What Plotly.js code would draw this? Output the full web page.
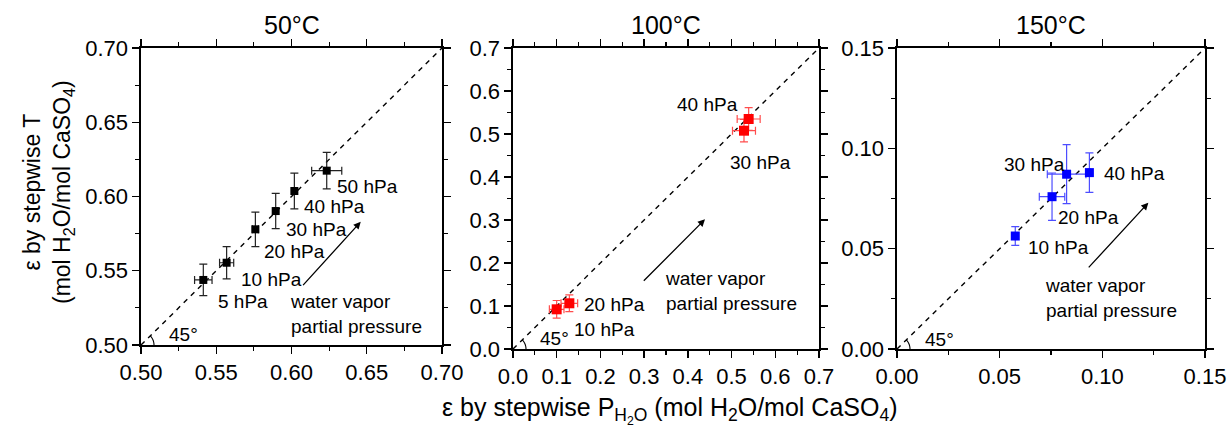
<!DOCTYPE html>
<html>
<head>
<meta charset="utf-8">
<script src="https://cdn.plot.ly/plotly-3.0.1.min.js"></script>
<style>html,body{margin:0;padding:0;background:#fff;}#chart{width:1232px;height:431px;}</style>
</head>
<body>
<div id="chart"></div>
<script>
// ---- data ----
const panelTitles = ["50°C", "100°C", "150°C"];

const labels50 = ["5 hPa", "10 hPa", "20 hPa", "30 hPa", "40 hPa", "50 hPa"];
const x50 = [0.5414, 0.5569, 0.5760, 0.5895, 0.6019, 0.6234];
const y50 = [0.5438, 0.5554, 0.5779, 0.5902, 0.6037, 0.6174];
const xerr50 = [0.0058, 0.0047, 0.0020, 0.0010, 0.0008, 0.0100];
const yerr50 = [0.0106, 0.0109, 0.0116, 0.0119, 0.0121, 0.0123];

const labels100 = ["10 hPa", "20 hPa", "30 hPa", "40 hPa"];
const x100 = [0.0999, 0.1289, 0.5284, 0.5391];
const y100 = [0.0923, 0.1063, 0.5077, 0.5349];
const xerr100 = [0.0167, 0.0190, 0.0263, 0.0263];
const yerr100 = [0.0205, 0.0194, 0.0260, 0.0263];

const labels150 = ["10 hPa", "20 hPa", "30 hPa", "40 hPa"];
const x150 = [0.0576, 0.0755, 0.0826, 0.0937];
const y150 = [0.0563, 0.0759, 0.0871, 0.0879];
const xerr150 = [0.0015, 0.0062, 0.0094, 0.0005];
const yerr150 = [0.0047, 0.0118, 0.0147, 0.0098];

// ---- layout config (pixels) ----
const W = 1232, H = 431;
const FONT = "Liberation Sans, Arial, sans-serif";
const LAB = 19;
const panels = [
  {xs: x50, ys: y50, xe: xerr50, ye: yerr50, labs: labels50, range: [0.5, 0.7], dtick: 0.05, minor: 0.025, fmt: ".2f",
   px: [141, 442], py: [48, 345], color: "#000000", ecolor: "#222222", msize: 8,
   offs: [[12.7, 21.7, "left"], [12.6, 16.6, "left"], [6.4, 22.4, "left"], [8.3, 18.3, "left"], [8, 15.7, "left"], [8.3, 16, "left"]],
   wv: [0.5979, 0.521], arrow: [0.6068, 0.5393, 0.646, 0.583], deg: [0.5171, 0.5074]},
  {xs: x100, ys: y100, xe: xerr100, ye: yerr100, labs: labels100, range: [0, 0.7], dtick: 0.1, minor: 0.05, fmt: ".1f",
   px: [513, 819], py: [48, 349], color: "#ff0000", ecolor: "#ff4d4d", msize: 10,
   offs: [[15, 20, "left"], [12.4, 1.7, "left"], [-15.7, 32, "left"], [-8.7, -14, "right"]],
   wv: [0.3425, 0.1353], arrow: [0.2958, 0.1551, 0.4392, 0.3016], deg: [0.0572, 0.0249]},
  {xs: x150, ys: y150, xe: xerr150, ye: yerr150, labs: labels150, range: [0, 0.15], dtick: 0.05, minor: 0.025, fmt: ".2f",
   px: [897, 1205], py: [48, 349], color: "#0000ff", ecolor: "#4d4dff", msize: 9,
   offs: [[10.7, 11.3, "left"], [4, 20.6, "left"], [0, -9.3, "right"], [12.4, 0.6, "left"]],
   wv: [0.0713, 0.0253], arrow: [0.0927, 0.0399, 0.1224, 0.0729], deg: [0.0128, 0.0048]}
];

const traces = [];
const annotations = [];
const shapes = [];
const layout = {
  width: W, height: H,
  margin: {l: 0, r: 0, t: 0, b: 0},
  paper_bgcolor: "#fff", plot_bgcolor: "#fff",
  showlegend: false,
  font: {family: FONT, color: "#000", size: LAB}
};

panels.forEach((p, i) => {
  const n = i === 0 ? "" : String(i + 1);
  const xa = "x" + n, ya = "y" + n;
  const axCommon = {
    range: p.range, dtick: p.dtick, tick0: 0, tickformat: p.fmt,
    showgrid: false, zeroline: false, showline: true, linecolor: "#000", linewidth: 1.6,
    mirror: "ticks", ticks: "outside", ticklen: 7, tickwidth: 1.3, tickcolor: "#000",
    tickfont: {family: FONT, size: 22, color: "#000"},
    minor: {dtick: p.minor, tick0: 0, ticklen: 4, tickwidth: 1.1, tickcolor: "#000", ticks: "outside", showgrid: false}
  };
  layout["xaxis" + n] = Object.assign({}, axCommon, {domain: [p.px[0] / W, p.px[1] / W], anchor: ya});
  layout["yaxis" + n] = Object.assign({}, axCommon, {domain: [1 - p.py[1] / H, 1 - p.py[0] / H], anchor: xa});

  // 45° diagonal
  traces.push({x: p.range, y: p.range, xaxis: xa, yaxis: ya, mode: "lines",
    line: {color: "#000", width: 1.4, dash: "5px,5px"}, hoverinfo: "skip", cliponaxis: true});
  // data points
  traces.push({x: p.xs, y: p.ys, xaxis: xa, yaxis: ya, mode: "markers", type: "scatter",
    marker: {symbol: "square", size: p.msize, color: p.color},
    error_x: {type: "data", array: p.xe, visible: true, color: p.ecolor, thickness: 1.2, width: 4},
    error_y: {type: "data", array: p.ye, visible: true, color: p.ecolor, thickness: 1.2, width: 4}});

  // point labels
  p.labs.forEach((t, k) => {
    const o = p.offs[k];
    annotations.push({xref: xa, yref: ya, x: p.xs[k], y: p.ys[k], text: t, showarrow: false,
      xanchor: o[2], yanchor: "middle", xshift: o[0], yshift: -o[1], font: {size: LAB, family: FONT}});
  });
  // water vapor text
  annotations.push({xref: xa, yref: ya, x: p.wv[0], y: p.wv[1], text: "water vapor<br>partial pressure",
    showarrow: false, xanchor: "left", yanchor: "middle", align: "left", font: {size: LAB, family: FONT}});
  // arrow
  annotations.push({xref: xa, yref: ya, axref: xa, ayref: ya, x: p.arrow[2], y: p.arrow[3],
    ax: p.arrow[0], ay: p.arrow[1], text: "", showarrow: true, arrowhead: 2, arrowsize: 1.1,
    arrowwidth: 1.3, arrowcolor: "#000"});
  // 45° label
  annotations.push({xref: xa, yref: ya, x: p.deg[0], y: p.deg[1], text: "45°", showarrow: false,
    xanchor: "left", yanchor: "middle", font: {size: LAB, family: FONT}});
  // angle arc
  const r = 13; // px
  const sx = (p.range[1] - p.range[0]) / (p.px[1] - p.px[0]);
  const sy = (p.range[1] - p.range[0]) / (p.py[1] - p.py[0]);
  let path = "";
  for (let a = 0; a <= 45; a += 5) {
    const rad = a * Math.PI / 180;
    const xx = p.range[0] + r * Math.cos(rad) * sx;
    const yy = p.range[0] + r * Math.sin(rad) * sy;
    path += (a === 0 ? "M " : " L ") + xx + "," + yy;
  }
  shapes.push({type: "path", xref: xa, yref: ya, path: path, line: {color: "#000", width: 1.1}});

  // panel title
  annotations.push({xref: "paper", yref: "paper", x: (p.px[0] + p.px[1]) / 2 / W, y: 1 - 25 / H,
    text: panelTitles[i], showarrow: false, xanchor: "center", yanchor: "middle",
    font: {size: 25, family: FONT}});
});

// axis titles
annotations.push({xref: "paper", yref: "paper", x: 48 / W, y: 1 - 192 / H, textangle: -90,
  text: "ε by stepwise T<br>(mol H<sub>2</sub>O/mol CaSO<sub>4</sub>)", showarrow: false,
  xanchor: "center", yanchor: "middle", font: {size: 23, family: FONT}});
annotations.push({xref: "paper", yref: "paper", x: 670 / W, y: 1 - 410 / H,
  text: "ε by stepwise P<sub>H<sub>2</sub>O</sub> (mol H<sub>2</sub>O/mol CaSO<sub>4</sub>)", showarrow: false,
  xanchor: "center", yanchor: "middle", font: {size: 25, family: FONT}});

layout.annotations = annotations;
layout.shapes = shapes;

Plotly.newPlot("chart", traces, layout, {displayModeBar: false, staticPlot: true});
</script>
</body>
</html>
